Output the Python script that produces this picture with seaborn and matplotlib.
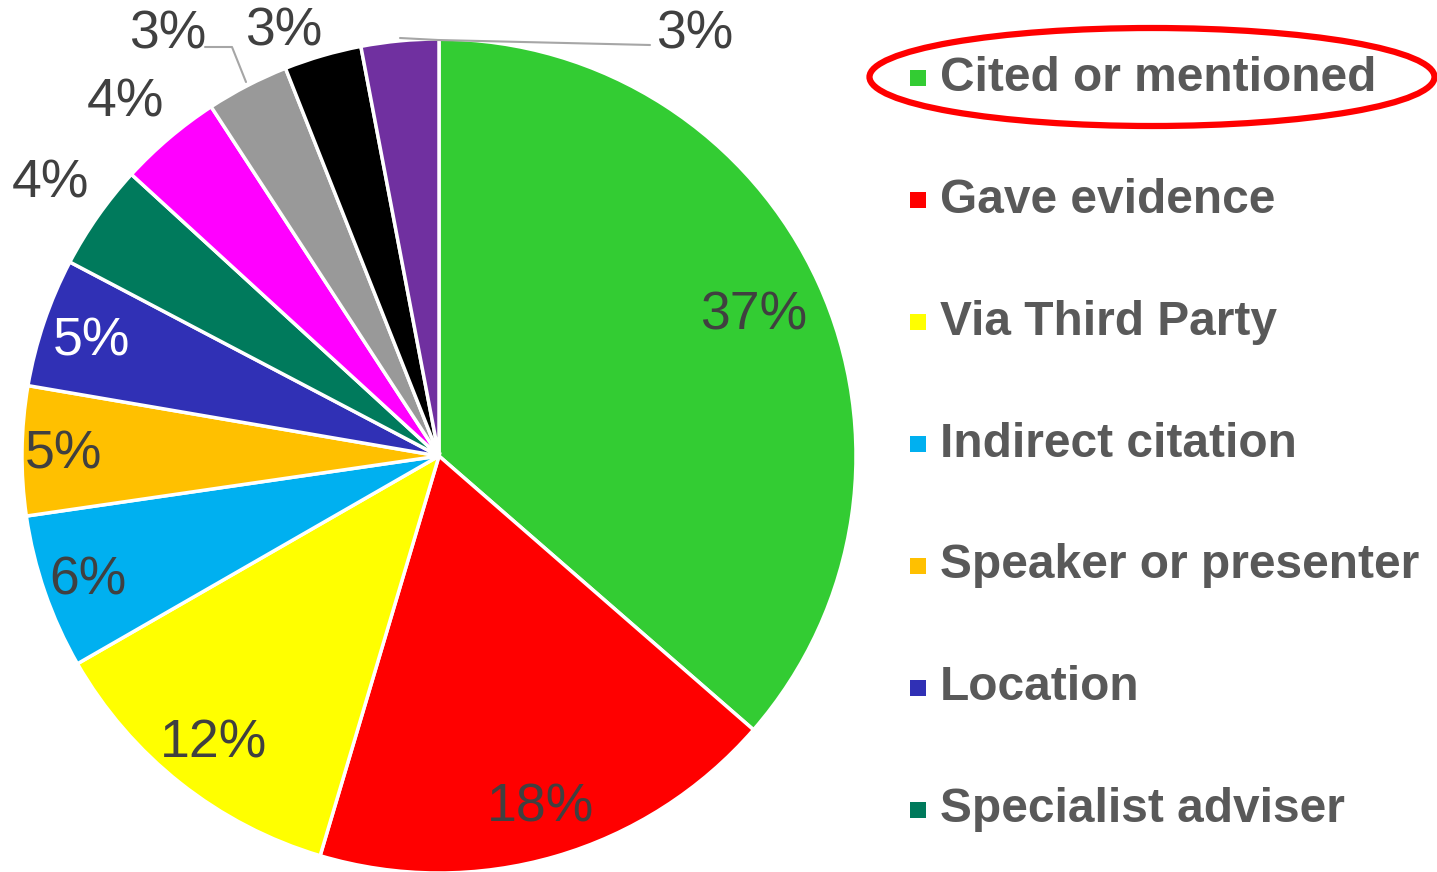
import matplotlib.pyplot as plt
import numpy as np
import seaborn as sns
from matplotlib.patches import Ellipse, Rectangle

# slice shares (percent), clockwise from 12 o'clock
categories = [
    "Cited or mentioned",
    "Gave evidence",
    "Via Third Party",
    "Indirect citation",
    "Speaker or presenter",
    "Location",
    "Specialist adviser",
    "Other 1",
    "Other 2",
    "Other 3",
    "Other 4",
]
shares = [36.4, 18.2, 12.1, 6.0, 5.0, 5.0, 4.1, 4.0, 3.2, 3.0, 3.0]
pct_labels = ["37%", "18%", "12%", "6%", "5%", "5%", "4%", "4%", "3%", "3%", "3%"]
colors = [
    "#33CC33", "#FF0000", "#FFFF00", "#00B0F0", "#FFC000", "#3030B5",
    "#007A5C", "#FF00FF", "#999999", "#000000", "#7030A0",
]
legend_shown = 7  # legend in the original is cut off after 7 rows

sns.set_theme(style="white")
plt.rcParams["font.family"] = ["Liberation Sans", "DejaVu Sans"]

W, H = 1437, 872
fig = plt.figure(figsize=(W / 100, H / 100), dpi=100)
ax = fig.add_axes([0, 0, 1, 1])

cx, cy, r = 439, H - 456, 417
wedges, _ = ax.pie(
    shares, colors=colors, startangle=90, counterclock=False,
    center=(cx, cy), radius=r, frame=True,
    wedgeprops=dict(edgecolor="white", linewidth=2.5),
)
ax.set_xlim(0, W)
ax.set_ylim(0, H)
ax.set_aspect("equal")
ax.axis("off")

text_col = "#404040"
# radial distance of each label (fraction of radius); None = placed outside
label_dist = [0.83, 0.87, 0.87, 0.89, 0.90, 0.88, None, None, None, None, None]
label_color = [text_col] * 11
label_color[5] = "white"
outside_pos = {6: (50, 183), 7: (125, 102), 8: (168, 34), 9: (284, 31), 10: (695, 34)}

for i, w in enumerate(wedges):
    ang = np.deg2rad((w.theta1 + w.theta2) / 2)
    if label_dist[i] is not None:
        x = cx + label_dist[i] * r * np.cos(ang)
        y = cy + label_dist[i] * r * np.sin(ang) - 3
    else:
        px, py = outside_pos[i]
        x, y = px, H - py
    ax.text(x, y, pct_labels[i], ha="center", va="center",
            fontsize=38.5, color=label_color[i])

# leader lines for the two small labels
ax.plot([205, 232, 246], [H - 47, H - 47, H - 82], color="#A6A6A6", lw=1.5)
ax.plot([400, 438, 650], [H - 38, H - 40, H - 45], color="#A6A6A6", lw=1.5)

# legend, drawn row by row
for i in range(legend_shown):
    ty = H - (78 + 122 * i)
    ax.add_patch(Rectangle((910, ty - 8), 16, 16, facecolor=colors[i],
                           edgecolor="none"))
    ax.text(940, ty, categories[i], ha="left", va="center", fontsize=34.5,
            fontweight="bold", color="#595959")

ax.add_patch(Ellipse((1152, H - 77), 565, 98, fill=False, edgecolor="#FF0000",
                     linewidth=4.5))

fig.savefig("out.png", dpi=100)
